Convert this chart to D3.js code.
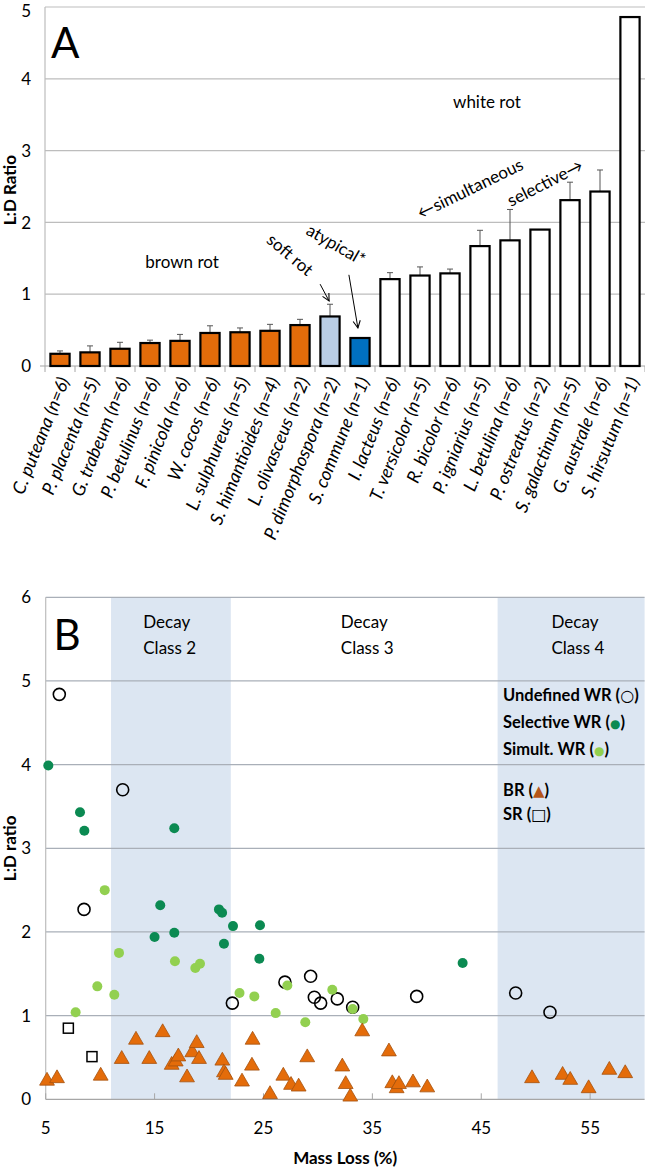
<!DOCTYPE html>
<html><head><meta charset="utf-8">
<script src="https://cdn.jsdelivr.net/npm/d3@7"></script>
<style>
body{margin:0;background:#fff}
svg{display:block}
text{font-family:Lato,"Open Sans",sans-serif;fill:#000}
</style>
</head><body>
<svg id="c" width="645" height="1170"></svg>
<script>
// ---------- Panel A data ----------
const species = ["C. puteana","P. placenta","G. trabeum","P. betulinus","F. pinicola","W. cocos","L. sulphureus","S. himantioides","L. olivasceus","P. dimorphospora","S. commune","I. lacteus","T. versicolor","R. bicolor","P. igniarius","L. betulina","P. ostreatus","S. galactinum","G. australe","S. hirsutum"];
const sampleN = [6,5,6,6,6,6,5,4,2,2,1,6,5,6,5,6,2,5,6,1];
const ldRatio = [0.17,0.19,0.24,0.32,0.35,0.46,0.47,0.49,0.57,0.69,0.39,1.21,1.26,1.29,1.67,1.75,1.90,2.31,2.43,4.86];
const ldError = [0.04,0.09,0.09,0.04,0.09,0.10,0.06,0.09,0.08,0.17,null,0.09,0.12,0.06,0.22,0.43,null,0.25,0.30,null];
const rotType = ["brown","brown","brown","brown","brown","brown","brown","brown","brown","soft","atypical","white","white","white","white","white","white","white","white","white"];
const yTicksA = [0,1,2,3,4,5];

// ---------- Panel B data (mass loss %, L:D ratio) ----------
const undefinedWR = [[6.25,4.84],[12.07,3.70],[8.52,2.27],[22.14,1.15],[26.97,1.40],[29.33,1.47],[29.67,1.22],[30.25,1.15],[31.78,1.20],[33.19,1.10],[39.07,1.23],[48.16,1.27],[51.31,1.04]];
const selectiveWR = [[5.24,3.99],[8.15,3.43],[8.55,3.21],[16.81,3.24],[15.52,2.32],[15.0,1.94],[16.81,1.99],[20.91,2.27],[21.2,2.23],[22.2,2.07],[21.37,1.86],[24.68,2.08],[24.62,1.68],[43.29,1.63]];
const simultWR = [[10.42,2.50],[11.73,1.75],[16.87,1.65],[18.74,1.57],[19.17,1.62],[9.74,1.35],[11.3,1.25],[7.75,1.04],[22.8,1.27],[24.16,1.23],[27.19,1.36],[26.12,1.03],[28.84,0.92],[31.32,1.31],[33.19,1.08],[34.17,0.96]];
const brownRot = [[5.12,0.22],[6.04,0.25],[10.05,0.28],[11.98,0.48],[13.29,0.71],[14.51,0.48],[15.74,0.80],[16.57,0.41],[16.94,0.45],[17.18,0.51],[17.98,0.26],[18.46,0.56],[18.87,0.67],[19.08,0.48],[21.22,0.46],[21.37,0.32],[21.53,0.29],[23.03,0.21],[23.94,0.40],[24.0,0.71],[25.6,0.06],[26.82,0.28],[27.53,0.17],[28.23,0.15],[29.02,0.50],[32.24,0.39],[32.55,0.18],[32.97,0.03],[34.07,0.81],[36.52,0.57],[36.83,0.19],[37.23,0.13],[37.44,0.18],[38.73,0.20],[40.04,0.14],[49.66,0.25],[52.47,0.29],[53.17,0.23],[54.86,0.13],[56.76,0.35],[58.22,0.31]];
const softRot = [[7.08,0.85],[9.25,0.51]];
const decayBands = [[11,22],[46.5,60]];
const decayLabels = [["Class 2",13.96],["Class 3",32.1],["Class 4",51.45]];
const xTicksB = [5,15,25,35,45,55];
const yTicksB = [0,1,2,3,4,5,6];

const svg = d3.select("#c");
const GRID = "#BDBDBD";

// ================= PANEL A =================
const xA = d3.scaleBand().domain(species).range([45,645]).paddingInner(0.36).paddingOuter(0.18);
const yA = d3.scaleLinear().domain([0,5]).range([366,7]);
const xi = i => xA.range()[0] + xA.step()*(i+0.5);   // fractional category position
const gA = svg.append("g");

gA.selectAll("line.grid").data(yTicksA.slice(1)).join("line")
  .attr("x1",45).attr("x2",645).attr("y1",d=>yA(d)).attr("y2",d=>yA(d))
  .attr("stroke",GRID).attr("stroke-width",1.2);
gA.append("line").attr("x1",45).attr("x2",45).attr("y1",yA(5)).attr("y2",yA(0)).attr("stroke",GRID).attr("stroke-width",1.2);
gA.append("line").attr("x1",40).attr("x2",645).attr("y1",yA(0)).attr("y2",yA(0)).attr("stroke","#A6A6A6").attr("stroke-width",1.2);
gA.selectAll("line.ct").data(d3.range(species.length+1)).join("line")
  .attr("x1",i=>xA.range()[0]+i*xA.step()).attr("x2",i=>xA.range()[0]+i*xA.step())
  .attr("y1",yA(0)).attr("y2",yA(0)+6).attr("stroke","#A6A6A6");
gA.selectAll("text.yt").data(yTicksA).join("text")
  .attr("x",31).attr("y",d=>Math.max(yA(d),11)).attr("dy","0.36em").attr("text-anchor","end")
  .style("font-size","17px").text(d=>d);
gA.append("text").attr("transform",`translate(10,${yA(2.45)}) rotate(-90)`)
  .attr("text-anchor","middle").attr("dy","0.35em").style("font-size","17px").style("font-weight","bold").text("L:D Ratio");

const fillFor = {brown:"#E46C0A",soft:"#B9CDE5",atypical:"#0070C0",white:"#FFFFFF"};
species.forEach((s,i)=>{
  if(ldError[i]==null) return;
  const cx = xA(s)+xA.bandwidth()/2;
  gA.append("line").attr("x1",cx).attr("x2",cx).attr("y1",yA(ldRatio[i])).attr("y2",yA(ldRatio[i]+ldError[i])).attr("stroke","#555").attr("stroke-width",1);
  gA.append("line").attr("x1",cx-3).attr("x2",cx+3).attr("y1",yA(ldRatio[i]+ldError[i])).attr("y2",yA(ldRatio[i]+ldError[i])).attr("stroke","#555").attr("stroke-width",1);
});
gA.selectAll("rect.bar").data(species).join("rect")
  .attr("x",d=>xA(d)).attr("width",xA.bandwidth())
  .attr("y",(d,i)=>yA(ldRatio[i])).attr("height",(d,i)=>yA(0)-yA(ldRatio[i]))
  .attr("fill",(d,i)=>fillFor[rotType[i]]).attr("stroke","#000").attr("stroke-width",2.2);
gA.selectAll("text.xl").data(species).join("text")
  .attr("transform",d=>`translate(${xA(d)+xA.bandwidth()/2+4},378) rotate(-68)`)
  .attr("text-anchor","end").attr("dy","0.35em")
  .style("font-size","18px").style("font-style","italic")
  .text((d,i)=>`${d} (n=${sampleN[i]})`);

gA.append("text").attr("x",xi(0.17)).attr("y",yA(4.5)).attr("dy","0.35em").attr("text-anchor","middle").style("font-size","42px").text("A");
gA.append("text").attr("x",xi(4.07)).attr("y",yA(1.45)).attr("dy","0.35em").attr("text-anchor","middle").style("font-size","17px").text("brown rot");
gA.append("text").attr("x",xi(14.23)).attr("y",yA(3.68)).attr("dy","0.35em").attr("text-anchor","middle").style("font-size","17px").text("white rot");
gA.append("text").attr("transform",`translate(${xi(7.67)},${yA(1.55)}) rotate(40)`).attr("dy","0.35em").attr("text-anchor","middle").style("font-size","17px").text("soft rot");
gA.append("text").attr("transform",`translate(${xi(9.2)},${yA(1.69)}) rotate(30)`).attr("dy","0.35em").attr("text-anchor","middle").style("font-size","17px").text("atypical*");
gA.append("text").attr("transform",`translate(${xi(13.67)},${yA(2.47)}) rotate(-26)`).attr("dy","0.35em").attr("text-anchor","middle").style("font-size","17px").text("\u2190simultaneous");
gA.append("text").attr("transform",`translate(${xi(16.17)},${yA(2.55)}) rotate(-27)`).attr("dy","0.35em").attr("text-anchor","middle").style("font-size","17px").text("selective\u2192");
svg.append("defs").append("marker").attr("id","ah").attr("viewBox","0 0 10 10").attr("refX",9).attr("refY",5)
  .attr("markerWidth",9).attr("markerHeight",9).attr("orient","auto").attr("markerUnits","userSpaceOnUse")
  .append("path").attr("d","M1,1 L9,5 L1,9").attr("fill","none").attr("stroke","#000").attr("stroke-width",1.2);
[[8.67,1.14,8.97,0.905],[9.63,1.27,9.93,0.53]].forEach(a=>{
  gA.append("line").attr("x1",xi(a[0])).attr("y1",yA(a[1])).attr("x2",xi(a[2])).attr("y2",yA(a[3]))
    .attr("stroke","#000").attr("stroke-width",1).attr("marker-end","url(#ah)");
});

// ================= PANEL B =================
const xB = d3.scaleLinear().domain([5,60]).range([45.7,644.6]);
const yB = d3.scaleLinear().domain([0,6]).range([1099.3,597.3]);
const gB = svg.append("g");
gB.selectAll("rect.band").data(decayBands).join("rect")
  .attr("x",d=>xB(d[0])).attr("width",d=>xB(d[1])-xB(d[0]))
  .attr("y",yB(6)).attr("height",yB(0)-yB(6)).attr("fill","#DCE6F2");
gB.selectAll("line.grid").data(yTicksB.slice(1)).join("line")
  .attr("x1",xB(5)).attr("x2",xB(60)).attr("y1",d=>yB(d)).attr("y2",d=>yB(d))
  .attr("stroke","#A9AFB8").attr("stroke-width",1.2);
gB.append("line").attr("x1",xB(5)).attr("x2",xB(5)).attr("y1",yB(6)).attr("y2",yB(0)).attr("stroke",GRID).attr("stroke-width",1.2);
gB.append("line").attr("x1",xB(5)).attr("x2",xB(60)).attr("y1",yB(0)).attr("y2",yB(0)).attr("stroke","#A6A6A6").attr("stroke-width",1.2);
gB.selectAll("line.xt").data(xTicksB).join("line")
  .attr("x1",d=>xB(d)).attr("x2",d=>xB(d)).attr("y1",yB(0)).attr("y2",yB(0)-6).attr("stroke","#A6A6A6");
gB.selectAll("text.yt").data(yTicksB).join("text")
  .attr("x",31).attr("y",d=>yB(d)).attr("dy","0.36em").attr("text-anchor","end")
  .style("font-size","17px").text(d=>d);
gB.selectAll("text.xt").data(xTicksB).join("text")
  .attr("x",d=>xB(d)).attr("y",yB(0)+29).attr("dy","0.35em").attr("text-anchor","middle")
  .style("font-size","17px").text(d=>d);
gB.append("text").attr("x",xB(32.5)).attr("y",yB(0)+59).attr("dy","0.35em").attr("text-anchor","middle")
  .style("font-size","17px").style("font-weight","bold").text("Mass Loss (%)");
gB.append("text").attr("transform",`translate(10,${yB(3.0)}) rotate(-90)`)
  .attr("text-anchor","middle").attr("dy","0.35em").style("font-size","17px").style("font-weight","bold").text("L:D ratio");
gB.append("text").attr("x",xB(6.96)).attr("y",yB(5.55)).attr("dy","0.35em").attr("text-anchor","middle").style("font-size","42px").text("B");
decayLabels.forEach(d=>{
  gB.append("text").attr("x",xB(d[1])).attr("y",yB(5.70)).attr("dy","0.35em").style("font-size","17px").text("Decay");
  gB.append("text").attr("x",xB(d[1])).attr("y",yB(5.39)).attr("dy","0.35em").style("font-size","17px").text(d[0]);
});

gB.selectAll("circle.u").data(undefinedWR).join("circle")
  .attr("cx",d=>xB(d[0])).attr("cy",d=>yB(d[1])).attr("r",6)
  .attr("fill","none").attr("stroke","#000").attr("stroke-width",1.6);
gB.selectAll("circle.s").data(selectiveWR).join("circle")
  .attr("cx",d=>xB(d[0])).attr("cy",d=>yB(d[1])).attr("r",5)
  .attr("fill","#0B8A52");
gB.selectAll("circle.m").data(simultWR).join("circle")
  .attr("cx",d=>xB(d[0])).attr("cy",d=>yB(d[1])).attr("r",5)
  .attr("fill","#92D050");
const tri = d3.symbol().type(d3.symbolTriangle).size(95);
gB.selectAll("path.br").data(brownRot).join("path")
  .attr("d",tri).attr("transform",d=>`translate(${xB(d[0])},${yB(d[1])})`)
  .attr("fill","#E46C0A").attr("stroke","#A4520F").attr("stroke-width",0.8);
gB.selectAll("rect.sr").data(softRot).join("rect")
  .attr("x",d=>xB(d[0])-5).attr("y",d=>yB(d[1])-5).attr("width",10).attr("height",10)
  .attr("fill","#fff").attr("stroke","#000").attr("stroke-width",1.5);

const legend = [
  {label:"Undefined WR (",sym:"\u25CB",col:"#000",fs:16,y:4.835},
  {label:"Selective WR (",sym:"\u25CF",col:"#0B8A52",fs:12,y:4.51},
  {label:"Simult. WR (",sym:"\u25CF",col:"#92D050",fs:12,y:4.19},
  {label:"BR (",sym:"\u25B2",col:"#B5561A",fs:15,y:3.70},
  {label:"SR (",sym:"\u25A1",col:"#000",fs:16,y:3.41}
];
legend.forEach(l=>{
  const t = gB.append("text").attr("x",xB(47.0)).attr("y",yB(l.y)).attr("dy","0.35em")
    .style("font-size","16.5px").style("font-weight","bold");
  t.append("tspan").text(l.label);
  t.append("tspan").style("fill",l.col).style("font-family","DejaVu Sans").style("font-size",l.fs+"px").style("font-weight","normal").text(l.sym);
  t.append("tspan").text(")");
});
</script>
</body></html>
